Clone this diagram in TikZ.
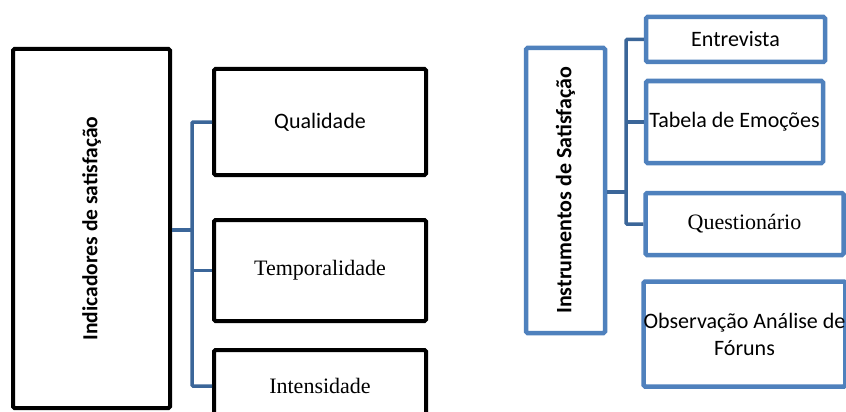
\documentclass[tikz,border=0pt]{standalone}
\usepackage{fontspec}
\setmainfont{Liberation Serif}
\newfontfamily\carl{Carlito}
\definecolor{conn}{HTML}{3B6699}
\definecolor{bbox}{HTML}{4F81BD}
\begin{document}
\begin{tikzpicture}[x=1pt,y=-1pt,
  blk/.style={draw=black,line width=4pt,rounded corners=1.5pt,rectangle,inner sep=0pt,align=center},
  blu/.style={draw=bbox,line width=4.5pt,rounded corners=1.5pt,rectangle,inner sep=0pt,align=center},
  sans/.style={font=\carl\fontsize{22}{27}\selectfont},
  serif/.style={font=\fontsize{22}{27}\selectfont},
  link/.style={draw=conn,line width=3.5pt,rounded corners=1pt}]
\useasboundingbox[fill=white] (0,0) rectangle (846,412);
% left group
\node[blk,minimum width=157,minimum height=359,font=\carl\bfseries\fontsize{21.5}{26}\selectfont] (main) at (91.5,228.5) {\rotatebox{90}{Indicadores de satisfação}};
\node[blk,sans,minimum width=212,minimum height=106] (qual) at (320,122) {Qualidade};
\node[blk,serif,minimum width=212,minimum height=101] (temp) at (320,270.5) {Temporalidade};
\node[blk,serif,minimum width=212,minimum height=72] (inte) at (320,386) {Intensidade};
\coordinate (lj) at (192,230);
\draw[link] (main.east |- lj) -- (lj);
\draw[link] (qual.west) -| (lj |- inte.west) -- (inte.west);
\draw[link] (lj |- temp.west) -- (temp.west);
% right group
\node[blu,minimum width=79,minimum height=285,font=\carl\bfseries\fontsize{22}{26}\selectfont] (inst) at (565.5,190.5) {\rotatebox{90}{Instrumentos de Satisfação}};
\node[blu,sans,minimum width=179,minimum height=45] (entr) at (735.5,39.5) {Entrevista};
\node[blu,sans,minimum width=177,minimum height=82] (tabe) at (734.5,122) {Tabela de Emoções};
\node[blu,serif,minimum width=198,minimum height=62] (ques) at (744.5,224) {Questionário};
\node[blu,sans,minimum width=198,minimum height=105] (obse) at (744.5,334) {Observação Análise de\\Fóruns};
\coordinate (rj) at (626,192);
\draw[link] (inst.east |- rj) -- (rj);
\draw[link] (entr.west) -| (rj |- ques.west) -- (ques.west);
\draw[link] (rj |- tabe.west) -- (tabe.west);
\end{tikzpicture}
\end{document}
